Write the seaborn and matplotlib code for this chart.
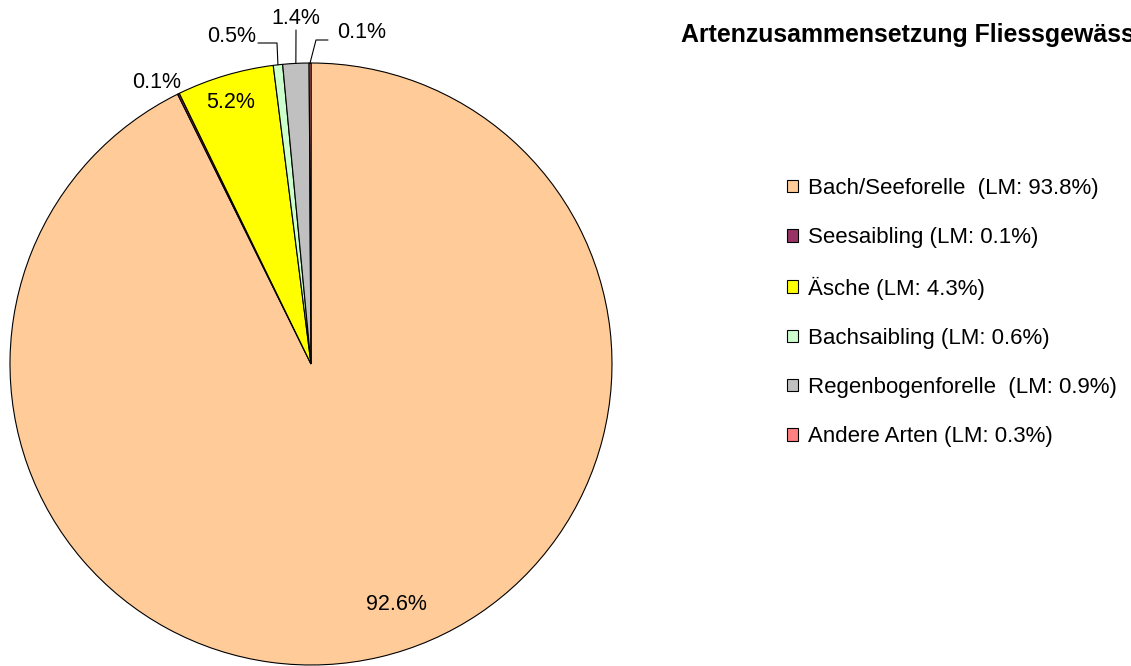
import matplotlib
matplotlib.use("Agg")
import matplotlib.pyplot as plt
import seaborn as sns
import numpy as np

# Daten (Anteile in %, Reihenfolge im Uhrzeigersinn ab 12 Uhr)
arten = ["Bach/Seeforelle ", "Seesaibling", "Äsche", "Bachsaibling",
         "Regenbogenforelle ", "Andere Arten"]
anteile = [92.6, 0.1, 5.2, 0.5, 1.4, 0.1]
lm_anteile = ["93.8%", "0.1%", "4.3%", "0.6%", "0.9%", "0.3%"]
farben = ["#FFCC99", "#993366", "#FFFF00", "#CCFFCC", "#C0C0C0", "#FF8080"]
titel = "Artenzusammensetzung Fliessgewässer"

sns.set_theme(style="white")
plt.rcParams["font.family"] = ["Liberation Sans", "DejaVu Sans"]
plt.rcParams["text.color"] = "black"

W, H = 1131, 666
fig = plt.figure(figsize=(W / 100, H / 100), dpi=100)
# Kreis: Mitte (311, 364), Radius 301 px
cx, cy, r = 311, 364, 301
ax = fig.add_axes([(cx - r) / W, (H - cy - r) / H, 2 * r / W, 2 * r / H])

wedges, _ = ax.pie(anteile, colors=farben, startangle=90, counterclock=False,
                   radius=1, wedgeprops=dict(edgecolor="black", linewidth=0.8))
ax.set_xlim(-1, 1)
ax.set_ylim(-1, 1)
ax.set_aspect("equal")
ax.axis("off")


def px(x, y):
    """Pixel -> Datenkoordinaten"""
    return (x - cx) / r, (cy - y) / r


fs = 15.5
# Beschriftungspositionen (Pixel) und Knickpunkte der Führungslinien
label_pos = [(396, 605), (157, 82), (231, 103), (232, 37), (296, 18), (362, 33)]
leader = [None, None, None,
          [(258, 43), (277, 43)],
          [(296, 30)],
          [(328, 40), (316, 40)]]

for w, val, pos, ld in zip(wedges, anteile, label_pos, leader):
    tx, ty = px(*pos)
    ax.text(tx, ty, f"{val:.1f}%", ha="center", va="center", fontsize=fs,
            color="black", clip_on=False)
    if ld is not None:
        mid = np.deg2rad((w.theta1 + w.theta2) / 2)
        pts = [px(*p) for p in ld] + [(np.cos(mid), np.sin(mid))]
        xs, ys = zip(*pts)
        ax.plot(xs, ys, color="black", linewidth=0.8, clip_on=False)

labels = [f"{a} (LM: {lm})" for a, lm in zip(arten, lm_anteile)]
leg = fig.legend(wedges, labels, loc="upper left",
                 bbox_to_anchor=(787 / W, 1 - 178 / H), frameon=False,
                 fontsize=16, handlelength=0.48, handleheight=0.48,
                 handletextpad=0.45, labelspacing=1.27, borderpad=0,
                 borderaxespad=0)
for t in leg.get_texts():
    t.set_color("black")

# Titel wird wie im Original am rechten Rand abgeschnitten
fig.text(681 / W, 1 - 35 / H, titel, fontsize=17.9, fontweight="bold",
         ha="left", va="center", color="black")

fig.savefig("out.png", dpi=100, facecolor="white")
